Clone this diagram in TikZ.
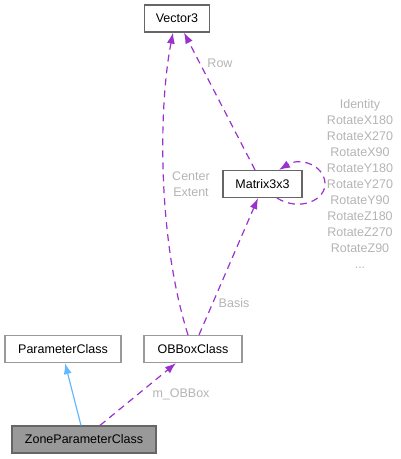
\documentclass[tikz,border=0pt]{standalone}
\usepackage{fontspec}
\setmainfont{Liberation Sans}
\usetikzlibrary{arrows.meta,calc}
\definecolor{usage}{HTML}{9A32CD}
\definecolor{inherit}{HTML}{63B8FF}
\definecolor{lbl}{HTML}{B4B4B4}

\tikzset{
  cls/.style={draw=black!60,line width=1.2pt,fill=white,minimum height=27pt,inner sep=0pt,font=\fontsize{12.5}{15}\selectfont},
  clsb/.style={cls,draw=black!40},
  clsme/.style={cls,fill=black!40},
  uses/.style={usage,line width=1.2pt,dash pattern=on 7pt off 5pt,-{Latex[length=11pt,width=8pt]}},
  isa/.style={inherit,line width=1.2pt,-{Latex[length=11pt,width=8pt]}},
  elabel/.style={lbl,inner sep=0pt,align=center,font=\fontsize{12.5}{16}\selectfont}
}

\begin{document}
\begin{tikzpicture}[x=1pt,y=-1pt]
  \useasboundingbox (0,0) rectangle (401,459);

  % classes
  \node[cls,minimum width=65pt] (vec) at (177,18.5) {Vector3};
  \node[cls,minimum width=79pt] (mat) at (262.5,184) {Matrix3x3};
  \node[clsb,minimum width=116pt] (param) at (63,349) {ParameterClass};
  \node[clsb,minimum width=98pt] (obb) at (193,349) {OBBoxClass};
  \node[clsme,minimum width=144pt] (zone) at (84,439.5) {ZoneParameterClass};

  % inheritance
  \draw[isa] ([xshift=-3pt]zone.north) -- ([xshift=2pt]param.south);

  % members
  \draw[uses] ([xshift=16pt]zone.north) -- ([xshift=-17pt]obb.south);
  \draw[uses] ([xshift=-5pt]obb.north) .. controls (158,240) and (158,110) .. ([xshift=-4pt]vec.south);
  \draw[uses] ([xshift=6pt]obb.north) -- ([xshift=-4.5pt]mat.south);
  \draw[uses] ([xshift=-7.5pt]mat.north) -- ([xshift=7pt]vec.south);
  \draw[uses] ([xshift=14.5pt]mat.south) .. controls (300,212) and (326,200) .. (325,183)
              .. controls (324,165) and (300,157) .. ([xshift=16.5pt]mat.north);

  % labels
  \node[elabel] (lobb) at (181,394) {m\_OBBox};
  \node[elabel] (lce) at (191,184) {Center\\Extent};
  \node[elabel] (lbasis) at (234,303) {Basis};
  \node[elabel] (lrow) at (220,63) {Row};
  \node[elabel] (lconst) at (360,184) {Identity\\RotateX180\\RotateX270\\RotateX90\\RotateY180\\RotateY270\\RotateY90\\RotateZ180\\RotateZ270\\RotateZ90\\...};
\end{tikzpicture}
\end{document}
